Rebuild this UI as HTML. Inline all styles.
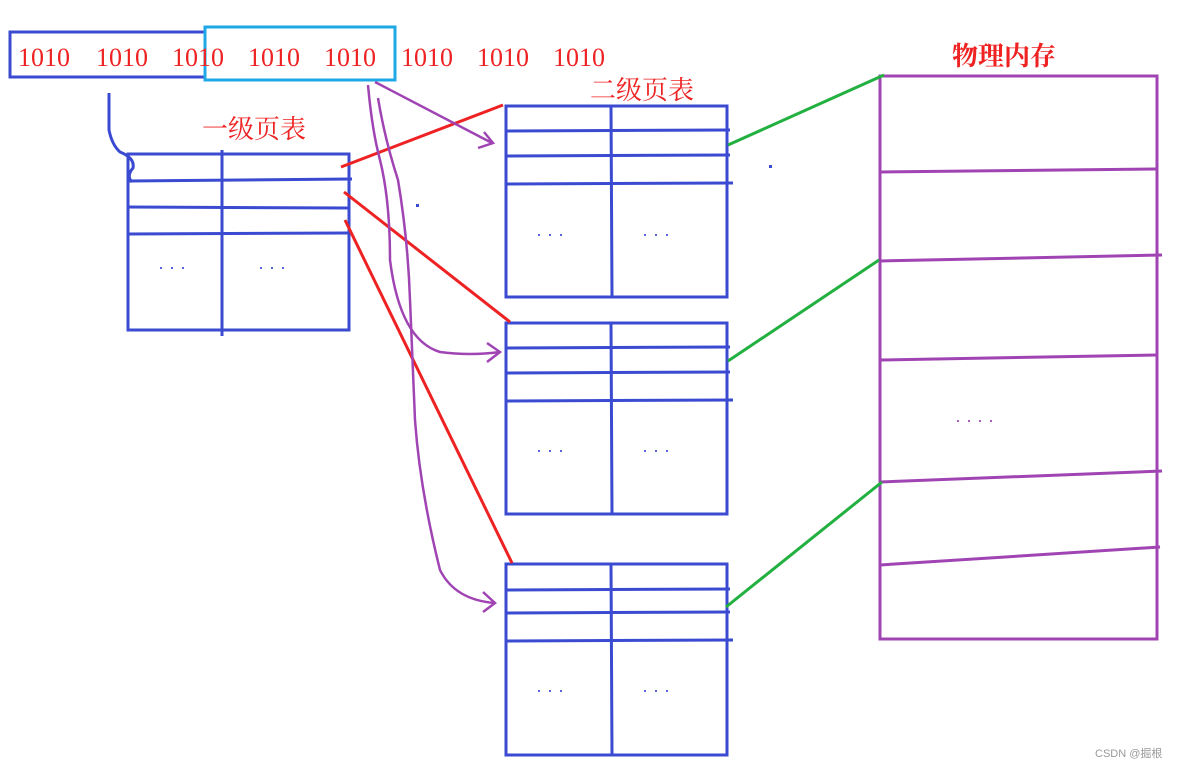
<!DOCTYPE html>
<html><head><meta charset="utf-8"><style>body{margin:0;background:#fff}svg{display:block}</style></head><body>
<svg width="1178" height="768" viewBox="0 0 1178 768" xmlns="http://www.w3.org/2000/svg">
<g fill="none" stroke-width="3">
<rect x="10" y="32" width="195" height="45" stroke="#3b4bd1"/>
<rect x="205" y="27" width="190" height="53" stroke="#1fa8e6"/>
<!-- level1 -->
<g stroke="#3b4bd1">
<rect x="128" y="154" width="221" height="176"/>
<line x1="222" y1="150" x2="222" y2="336"/>
<line x1="128" y1="181" x2="352" y2="179"/>
<line x1="128" y1="207" x2="349" y2="208"/>
<line x1="128" y1="234" x2="349" y2="233"/>
<path d="M109 93 L109 130 Q112 145 120 152 Q135 158 133 168 Q126 176 132 182"/>
</g>
<g stroke="#3b4bd1">
<rect x="506" y="106" width="221" height="191"/><line x1="611" y1="106" x2="612" y2="297"/>
<line x1="506" y1="131" x2="730" y2="130"/><line x1="506" y1="156" x2="730" y2="155"/><line x1="506" y1="184" x2="733" y2="183"/>
<rect x="506" y="323" width="221" height="191"/><line x1="611" y1="323" x2="612" y2="514"/>
<line x1="506" y1="348" x2="730" y2="347"/><line x1="506" y1="373" x2="730" y2="372"/><line x1="506" y1="401" x2="733" y2="400"/>
<rect x="506" y="564" width="221" height="191"/><line x1="611" y1="564" x2="612" y2="755"/>
<line x1="506" y1="590" x2="730" y2="589"/><line x1="506" y1="613" x2="730" y2="612"/><line x1="506" y1="641" x2="733" y2="640"/>
</g>
<g stroke="#a044b4">
<rect x="880" y="76" width="277" height="563"/>
<line x1="880" y1="172" x2="1157" y2="169"/>
<line x1="880" y1="261" x2="1162" y2="255"/>
<line x1="880" y1="360" x2="1157" y2="355"/>
<line x1="880" y1="482" x2="1162" y2="471"/>
<line x1="880" y1="565" x2="1160" y2="547"/>
</g>
<g stroke="#ee2222">
<line x1="341" y1="167" x2="503" y2="105"/>
<line x1="344" y1="192" x2="510" y2="322"/>
<line x1="345" y1="220" x2="512" y2="563"/>
</g>
<g stroke="#22b040">
<line x1="728" y1="145" x2="884" y2="75"/>
<line x1="728" y1="361" x2="879" y2="260"/>
<line x1="726" y1="607" x2="882" y2="482"/>
</g>
<g stroke="#a044b4" stroke-width="2.5">
<line x1="375" y1="82" x2="492" y2="143"/>
<path d="M484 132 L493 143 L478 148"/>
<path d="M368 85 Q372 130 380 160 Q390 200 390 260 Q400 340 440 352 Q470 356 500 352"/>
<path d="M487 343 L500 352 L487 362"/>
<path d="M378 98 Q385 140 398 180 Q408 240 410 300 Q412 350 415 420 Q420 490 440 570 Q455 600 495 603"/>
<path d="M483 592 L495 603 L483 612"/>
</g>
</g>
<g fill="#ee2222" font-family="'Liberation Serif','Noto Serif CJK SC',serif" font-size="26">
<text x="18" y="66">1010</text><text x="96" y="66">1010</text><text x="172" y="66">1010</text><text x="248" y="66">1010</text><text x="324" y="66">1010</text><text x="401" y="66">1010</text><text x="477" y="66">1010</text><text x="553" y="66">1010</text>
<text x="202" y="138" font-size="26" font-family="'Noto Serif CJK SC',serif">一级页表</text>
<text x="590" y="99" font-size="26" font-family="'Noto Serif CJK SC',serif">二级页表</text>
<text x="952" y="65" font-size="26" font-family="'Noto Serif CJK SC',serif" font-weight="bold">物理内存</text>
</g>
<g fill="#3b4bd1" font-family="'Liberation Sans',sans-serif" font-size="18">
<text x="158" y="273">· · ·</text><text x="258" y="273">· · ·</text>
<text x="536" y="240">· · ·</text><text x="642" y="240">· · ·</text>
<text x="536" y="456">· · ·</text><text x="642" y="456">· · ·</text>
<text x="536" y="696">· · ·</text><text x="642" y="696">· · ·</text>
</g>
<text x="955" y="426" fill="#a044b4" font-family="'Liberation Sans',sans-serif" font-size="18">· · · ·</text>
<rect x="416" y="204" width="3" height="3" fill="#3b4bd1"/>
<rect x="769" y="165" width="3" height="3" fill="#3b4bd1"/>
<text x="1095" y="757" fill="#999" font-family="'Liberation Sans','Noto Sans CJK SC',sans-serif" font-size="11">CSDN @掘根</text>
</svg>
</body></html>
